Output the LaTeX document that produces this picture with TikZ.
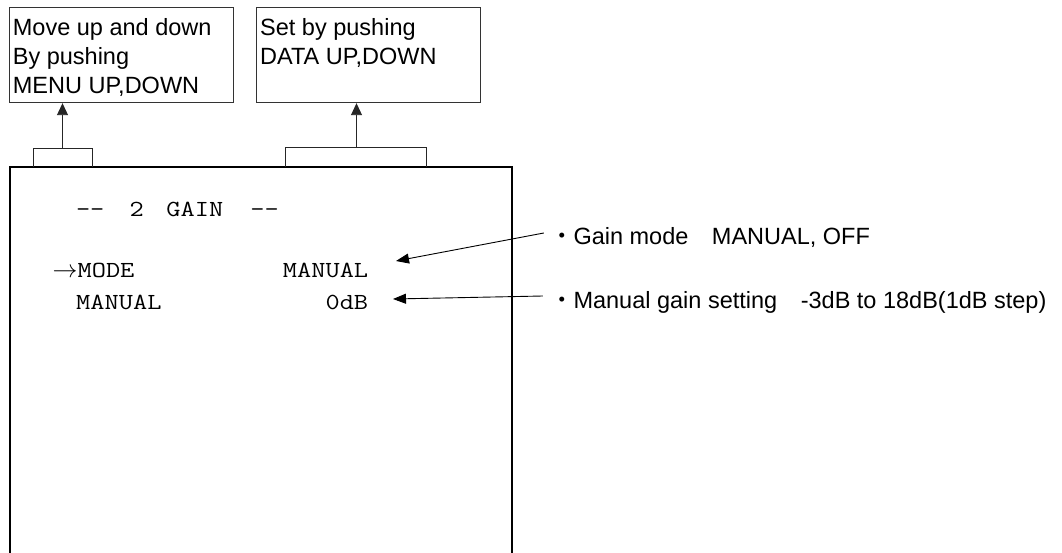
\documentclass[tikz,border=0pt]{standalone}
\usepackage{fontspec}
\setmainfont{Liberation Sans}
\newfontfamily\monofont{Latin Modern Mono}[FakeStretch=1.2]
\newfontfamily\cjk{Noto Sans CJK JP}
\usetikzlibrary{arrows.meta,calc}
\begin{document}
\begin{tikzpicture}[x=1pt,y=-1pt,
  infobox/.style={draw=black!80, line width=0.9pt, minimum width=224pt, minimum height=95pt, inner sep=0pt, anchor=north west},
  boxtext/.style={font=\fontsize{23.5}{29}\selectfont, align=left, inner sep=0pt, anchor=north west},
  scr/.style={font=\monofont\fontsize{23}{29}\selectfont, inner sep=0pt},
  note/.style={font=\fontsize{23.5}{28}\selectfont, inner sep=0pt, anchor=base west},
  thinline/.style={draw=black!85, line width=0.9pt},
  uparr/.style={thinline, -{Triangle[length=12pt,width=11pt]}},
  ptr/.style={draw=black, line width=0.9pt, -{Triangle[length=13pt,width=10pt]}},
  screenside/.style={draw=black, line width=2pt},
]
\useasboundingbox (0,0) rectangle (1062,553);
\fill[white] (0,0) rectangle (1062,553);

% help boxes
\node[infobox] (menubox) at (8.7,7.3) {};
\node[infobox] (databox) at (256,7.3) {};
\node[boxtext] (menutext) at (12.7,18.2) {Move up and down\\By pushing\\MENU UP,DOWN};
\node[boxtext] (datatext) at (260,18.2) {Set by pushing\\DATA UP,DOWN};

% screen frame (open at the bottom)
\draw[draw=black, line width=1.2pt] (9.5,167) -- (511.7,167);
\draw[screenside] (9.5,166.4) -- (9.5,553);
\draw[screenside] (511.7,166.4) -- (511.7,553);

% selection brackets
\draw[thinline] (33,167) -- (33,148) -- (92,148) -- (92,167);
\coordinate (menusel) at (62.5,148);
\draw[thinline] (285,167) -- (285,147.5) -- (426.5,147.5) -- (426.5,167);
\coordinate (datasel) at (356.5,147.5);
\draw[uparr] (menusel) -- (menusel |- menubox.south);
\draw[uparr] (datasel) -- (datasel |- databox.south);

% screen texts
\node[scr, anchor=base west] (title) at (75.8,217) {-{}-\hspace{25.1pt}2\hspace{22.7pt}GAIN\hspace{27pt}-{}-};
\node[scr, anchor=base west] (modelabel) at (52.5,277.5) {$\rightarrow$MODE};
\node[scr, anchor=base east] (modeval) at (368.4,277.5) {MANUAL};
\node[scr, anchor=base west] (manlabel) at (76,309.5) {MANUAL};
\node[scr, anchor=base east] (manval) at (368.4,309.5) {0dB};

% notes
\node[note] (gainnote) at (549.8,244) {{\cjk ・}Gain mode{\cjk 　}MANUAL, OFF};
\node[note] (mannote) at (549.8,308) {{\cjk ・}Manual gain setting{\cjk 　}-3dB to 18dB(1dB step)};

\coordinate (modetip) at (396,261);
\coordinate (mantip) at (393,299);
\draw[ptr] ([xshift=-6pt,yshift=11pt]gainnote.base west) -- (modetip);
\draw[ptr] ([xshift=-7pt,yshift=12pt]mannote.base west) -- (mantip);
\end{tikzpicture}
\end{document}
